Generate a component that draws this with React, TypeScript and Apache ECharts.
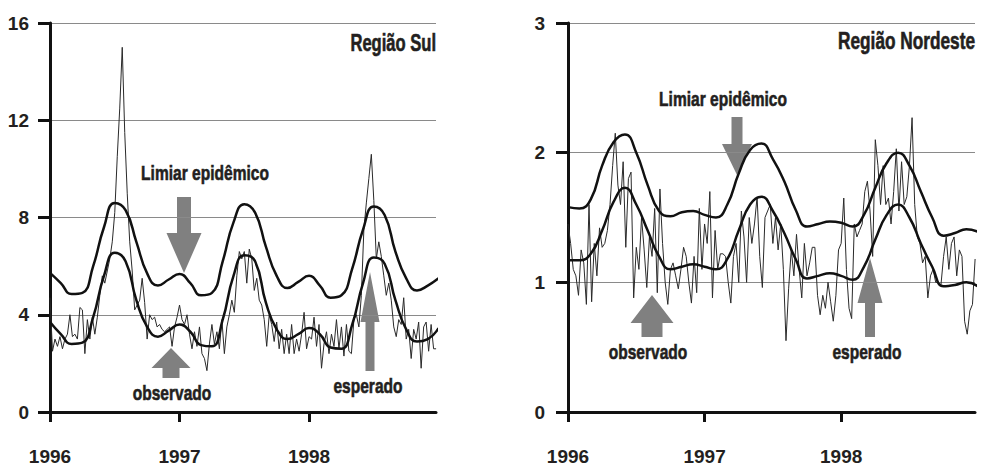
import { useEffect, useRef } from "react";
import * as echarts from "echarts";

// ---------- DATA ----------
const YEAR_START = 1996;
const WEEKS_PER_YEAR = 52;
const MONTHS_PER_YEAR = 12;
const xTickYears = [1996, 1997, 1998];
const sulYTicks = [0, 4, 8, 12, 16];
const nordesteYTicks = [0, 1, 2, 3];

const titleSul = "Região Sul";
const titleNordeste = "Região Nordeste";
const labelLimiar = "Limiar epidêmico";
const labelObservado = "observado";
const labelEsperado = "esperado";

// weekly observed values, Região Sul
const sulObservado = [
  4.7, 2.5, 3.0, 2.7, 3.1, 2.6, 3.0, 3.2, 4.0, 3.1, 3.2, 3.0, 4.3, 4.2, 2.4, 3.8, 3.0, 3.9, 3.2, 3.9, 4.8,
  5.6, 5.3, 5.8, 6.3, 7.0, 8.2, 10.5, 12.5, 15.0, 11.5, 9.0, 7.0, 5.8, 4.2,
  4.4, 4.6, 5.5, 4.5, 3.0, 4.0, 3.8, 3.9, 3.5, 3.6, 3.4, 3.3, 3.4, 3.5, 2.7, 3.5, 3.9, 4.4,
  3.8, 3.6, 4.0, 3.2, 2.6, 3.3, 2.7, 3.5, 2.4, 2.2, 1.7, 2.8, 3.6, 2.8, 3.3, 2.6, 3.8, 2.4,
  3.5, 4.0, 4.6, 4.1, 5.6, 6.6, 6.3, 6.6, 5.3, 6.7,
  6.3, 5.0, 5.5, 4.6, 4.4, 3.8, 2.7, 4.0, 3.6, 2.9, 3.7, 2.6, 3.4, 2.4, 3.2,
  2.4, 3.6, 2.4, 3.0, 2.5, 3.2, 4.1, 2.6, 3.1,
  3.0, 3.9, 2.7, 3.6, 1.8, 2.8, 3.3, 2.4, 3.2, 2.7, 3.8, 2.6, 3.5, 2.3, 3.6, 2.5, 2.4,
  3.8, 4.0, 3.5, 4.8, 7.5, 8.6, 9.6, 10.6, 8.7,
  6.3, 7.0, 6.4, 5.6, 4.8, 5.3, 4.6, 3.5, 3.1, 3.8, 3.6, 4.7, 3.0, 3.4, 2.2, 3.4, 3.0, 3.7, 1.8, 3.5, 3.7, 2.5, 3.6, 2.6, 2.6,
];

// monthly expected values, Região Sul
const sulEsperado = [
  3.7, 3.2, 2.8, 2.85, 3.9, 5.6, 6.55, 6.2, 4.6, 3.5, 3.1, 3.35,
  3.6, 3.3, 2.75, 2.7, 3.8, 5.6, 6.45, 6.2, 4.5, 3.4, 3.0, 3.2,
  3.45, 3.2, 2.65, 2.6, 3.6, 5.3, 6.35, 6.1, 4.6, 3.4, 2.9, 3.0, 3.45,
];

// monthly epidemic threshold, Região Sul
const sulLimiar = [
  5.72, 5.3, 4.85, 4.9, 6.0, 7.6, 8.6, 8.3, 7.0, 5.7, 5.2, 5.45,
  5.68, 5.3, 4.8, 4.9, 6.2, 7.8, 8.55, 8.2, 6.8, 5.6, 5.1, 5.35,
  5.6, 5.2, 4.7, 4.8, 5.9, 7.5, 8.45, 8.1, 6.6, 5.5, 5.0, 5.2, 5.5,
];

// weekly observed values, Região Nordeste
const nordesteObservado = [
  1.45, 1.3, 1.1, 1.05, 0.9, 1.25, 1.15, 0.83, 1.6, 0.85,
  1.3, 1.05, 1.42, 1.27, 1.3, 1.4, 1.6, 1.9, 2.15, 1.75,
  1.6, 1.93, 1.27, 1.8, 1.85, 0.88, 1.27, 1.1, 1.5, 1.25,
  0.96, 1.35, 1.2, 1.57, 0.92, 1.72, 1.3, 1.0, 0.83, 1.1,
  1.15, 1.05, 0.95, 1.1, 1.27, 1.2, 1.0, 0.84, 1.2, 0.92,
  1.57, 1.1, 1.45, 1.3, 1.7, 0.88, 1.4, 1.1, 1.22, 1.22,
  1.2, 1.0, 0.84, 1.2, 1.3, 1.0, 1.55, 1.35, 1.0, 1.5,
  1.3, 1.45, 1.66, 1.2, 0.96, 1.5, 1.55, 1.6, 1.3, 1.5,
  1.25, 1.45, 1.1, 0.55, 0.95, 1.25, 1.05, 1.37, 1.1, 0.88,
  1.3, 1.05, 1.15, 1.27, 1.27, 0.9, 0.75, 0.9, 0.8, 1.0,
  0.85, 0.7, 0.9, 1.25, 1.3, 1.65, 1.1, 0.8, 0.72, 1.45,
  1.35, 1.4, 1.45, 1.7, 1.78, 1.55, 1.2, 2.1, 1.9, 1.6,
  1.9, 1.6, 1.65, 1.45, 1.7, 2.03, 1.55, 1.93, 1.6, 1.66,
  1.9, 2.27, 1.6, 1.35, 1.3, 1.15, 1.2, 0.88, 1.05, 1.1,
  1.0, 1.0, 0.98, 1.2, 1.35, 1.1, 1.3, 1.35, 1.05, 1.25,
  1.2, 0.7, 0.6, 0.78, 0.83, 1.18,
];

// monthly expected values, Região Nordeste
const nordesteEsperado = [
  1.17, 1.17, 1.22, 1.4, 1.62, 1.73, 1.6, 1.4, 1.2, 1.1, 1.12, 1.14,
  1.12, 1.1, 1.18, 1.4, 1.6, 1.66, 1.55, 1.38, 1.18, 1.03, 1.05, 1.07,
  1.05, 1.02, 1.12, 1.33, 1.52, 1.6, 1.5, 1.3, 1.12, 0.97, 0.98, 1.0, 0.97,
];

// monthly epidemic threshold, Região Nordeste
const nordesteLimiar = [
  1.58, 1.57, 1.64, 1.9, 2.08, 2.14, 2.0, 1.75, 1.55, 1.51, 1.54, 1.55,
  1.52, 1.5, 1.6, 1.84, 2.02, 2.07, 1.95, 1.78, 1.56, 1.43, 1.45, 1.47,
  1.46, 1.43, 1.52, 1.73, 1.92, 2.0, 1.9, 1.7, 1.5, 1.36, 1.38, 1.41, 1.39,
];

// ---------- HELPERS ----------
const weekly = (vals: number[]) => vals.map((v, i) => [YEAR_START + i / WEEKS_PER_YEAR, v]);
const monthly = (vals: number[]) => vals.map((v, i) => [YEAR_START + i / MONTHS_PER_YEAR, v]);

const AXIS_FONT = "'Liberation Sans', Arial, sans-serif";
const TEXT_FONT = "'Liberation Sans', Arial, sans-serif";
const TEXT = "#231f20";
const AXIS = "#111111";
const ARROW = "#808080";

function xAxisCfg(gridIndex: number) {
  return {
    type: "value",
    gridIndex,
    min: 1996,
    max: 1998.98,
    interval: 1,
    axisLine: { show: true, onZero: false, lineStyle: { color: AXIS, width: 3 } },
    axisTick: { show: true, length: 10, customValues: xTickYears, lineStyle: { color: AXIS, width: 3 } },
    axisLabel: {
      customValues: xTickYears,
      margin: 35,
      fontSize: 19,
      fontWeight: "bold",
      fontFamily: AXIS_FONT,
      color: TEXT,
      formatter: (v: number) => String(Math.round(v)),
    },
    splitLine: { show: false },
  };
}

function yAxisCfg(gridIndex: number, ticks: number[], margin: number) {
  return {
    type: "value",
    gridIndex,
    min: ticks[0],
    max: ticks[ticks.length - 1],
    interval: ticks[1] - ticks[0],
    axisLine: { show: true, lineStyle: { color: AXIS, width: 3 } },
    axisTick: { show: true, length: 12, lineStyle: { color: AXIS, width: 3 } },
    axisLabel: {
      margin,
      fontSize: 19,
      fontWeight: "bold",
      fontFamily: AXIS_FONT,
      color: TEXT,
    },
    splitLine: { show: true, lineStyle: { color: "#8a8a8a", width: 1 } },
  };
}

function upArrow(tipX: number, tipY: number, headW: number, headH: number, shaftW: number, shaftH: number) {
  const by = tipY + headH;
  return {
    type: "polygon",
    shape: {
      points: [
        [tipX, tipY],
        [tipX + headW / 2, by],
        [tipX + shaftW / 2, by],
        [tipX + shaftW / 2, by + shaftH],
        [tipX - shaftW / 2, by + shaftH],
        [tipX - shaftW / 2, by],
        [tipX - headW / 2, by],
      ],
    },
    style: { fill: ARROW },
  };
}

function downArrow(tipX: number, tipY: number, headW: number, headH: number, shaftW: number, shaftH: number) {
  const by = tipY - headH;
  return {
    type: "polygon",
    shape: {
      points: [
        [tipX, tipY],
        [tipX + headW / 2, by],
        [tipX + shaftW / 2, by],
        [tipX + shaftW / 2, by - shaftH],
        [tipX - shaftW / 2, by - shaftH],
        [tipX - shaftW / 2, by],
        [tipX - headW / 2, by],
      ],
    },
    style: { fill: ARROW },
  };
}

function label(text: string, x: number, y: number, align = "center", size = 21, sx = 0.74) {
  return {
    type: "text",
    x,
    y,
    scaleX: sx,
    style: {
      text,
      fontSize: size,
      fontWeight: "bold",
      fontFamily: TEXT_FONT,
      fill: TEXT,
      stroke: TEXT,
      lineWidth: 0.6,
      align,
      verticalAlign: "middle",
    },
  };
}

export default function App() {
  const ref = useRef<HTMLDivElement>(null);

  useEffect(() => {
    if (!ref.current) return;
    const chart = echarts.init(ref.current, undefined, { renderer: "svg" });

    const obsLine = { color: "#2a2a2a", width: 1 };
    const smoothLine = { color: "#111111", width: 2.5 };

    chart.setOption({
      animation: false,
      backgroundColor: "#ffffff",
      grid: [
        { left: 50, top: 23, width: 386, height: 389 },
        { left: 568, top: 23, width: 407, height: 389 },
      ],
      xAxis: [xAxisCfg(0), xAxisCfg(1)],
      yAxis: [yAxisCfg(0, sulYTicks, 21), yAxisCfg(1, nordesteYTicks, 23)],
      series: [
        { type: "line", xAxisIndex: 0, yAxisIndex: 0, data: weekly(sulObservado), showSymbol: false, symbol: "none", lineStyle: obsLine, z: 2 },
        { type: "line", xAxisIndex: 0, yAxisIndex: 0, data: monthly(sulEsperado), smooth: 0.5, showSymbol: false, symbol: "none", lineStyle: smoothLine, z: 3 },
        { type: "line", xAxisIndex: 0, yAxisIndex: 0, data: monthly(sulLimiar), smooth: 0.5, showSymbol: false, symbol: "none", lineStyle: smoothLine, z: 3 },
        { type: "line", xAxisIndex: 1, yAxisIndex: 1, data: weekly(nordesteObservado), showSymbol: false, symbol: "none", lineStyle: obsLine, z: 2 },
        { type: "line", xAxisIndex: 1, yAxisIndex: 1, data: monthly(nordesteEsperado), smooth: 0.5, showSymbol: false, symbol: "none", lineStyle: smoothLine, z: 3 },
        { type: "line", xAxisIndex: 1, yAxisIndex: 1, data: monthly(nordesteLimiar), smooth: 0.5, showSymbol: false, symbol: "none", lineStyle: smoothLine, z: 3 },
      ],
      graphic: [
        label(titleSul, 436, 43, "right", 23, 0.72),
        label(titleNordeste, 975, 41, "right", 23, 0.75),
        // left panel annotations
        label(labelLimiar, 205, 173),
        downArrow(184, 273, 35, 40, 14, 36),
        label(labelObservado, 172, 393),
        upArrow(171, 348, 39, 20, 17, 10),
        label(labelEsperado, 368, 386),
        upArrow(370, 272, 19, 50, 9, 49),
        // right panel annotations
        label(labelLimiar, 723, 99),
        downArrow(737, 175, 30, 31, 11, 27),
        label(labelObservado, 648, 352),
        upArrow(652, 295, 43, 28, 21, 14),
        label(labelEsperado, 867, 352),
        upArrow(870, 258, 25, 45, 10, 34),
      ],
    });

    return () => chart.dispose();
  }, []);

  return (
    <div
      ref={ref}
      style={{ position: "absolute", left: 0, top: 0, width: 981, height: 468, background: "#fff" }}
    />
  );
}
